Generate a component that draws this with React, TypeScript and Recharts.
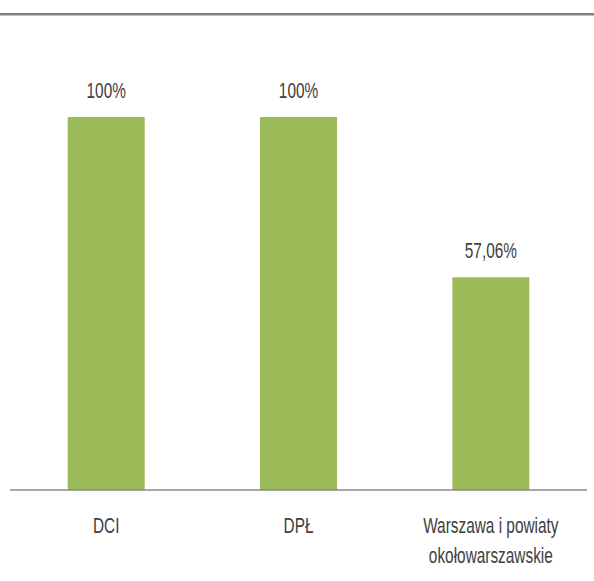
import React from "react";
import { BarChart, Bar, XAxis, YAxis, LabelList } from "recharts";

const categories = ["DCI", "DPŁ", "Warszawa i powiaty\nokołowarszawskie"];
const values = [100, 100, 57.06];
const valueLabels = ["100%", "100%", "57,06%"];

const data = categories.map((c, i) => ({ name: c, value: values[i], label: valueLabels[i] }));

const FONT = "'Liberation Sans', Arial, sans-serif";
const SX = 0.81;
const SY = 1.18;

const Tick = (props: any) => {
  const { x, y, payload } = props;
  const lines = String(payload.value).split("\n");
  return (
    <g transform={`translate(${x},${y})`}>
      {lines.map((ln, i) => (
        <text
          key={i}
          x={0}
          y={(35 + i * 30) / SY}
          transform={`scale(${SX},${SY})`}
          textAnchor="middle"
          fontFamily={FONT}
          fontSize={19}
          fill="#404040"
        >
          {ln}
        </text>
      ))}
    </g>
  );
};

const ValueLabel = (props: any) => {
  const { x, y, width, index } = props;
  const cx = x + width / 2;
  const by = y - 19;
  return (
    <g transform={`translate(${cx},${by})`}>
      <text
        x={0}
        y={0}
        transform={`scale(${SX},${SY})`}
        textAnchor="middle"
        fontFamily={FONT}
        fontSize={19}
        fill="#404040"
      >
        {valueLabels[index]}
      </text>
    </g>
  );
};

export default function App() {
  return (
    <div style={{ position: "absolute", left: 0, top: 0, width: 594, height: 581, background: "#fff" }}>
      <div style={{ position: "absolute", left: 0, top: 13, width: 594, height: 2, background: "#7f7f7f" }} />
      <div style={{ position: "absolute", left: 0, top: 15, width: 594, height: 1, background: "#bfbfbf" }} />
      <BarChart
        width={594}
        height={581}
        data={data}
        margin={{ top: 117, right: 7, left: 10, bottom: 0 }}
        barCategoryGap="30%"
      >
        <XAxis
          dataKey="name"
          height={91}
          tickLine={false}
          axisLine={{ stroke: "#888888", strokeWidth: 1.5 }}
          tick={<Tick />}
          interval={0}
        />
        <YAxis hide domain={[0, 100]} />
        <Bar dataKey="value" fill="#9BBB59" isAnimationActive={false}>
          <LabelList dataKey="label" content={<ValueLabel />} />
        </Bar>
      </BarChart>
    </div>
  );
}
